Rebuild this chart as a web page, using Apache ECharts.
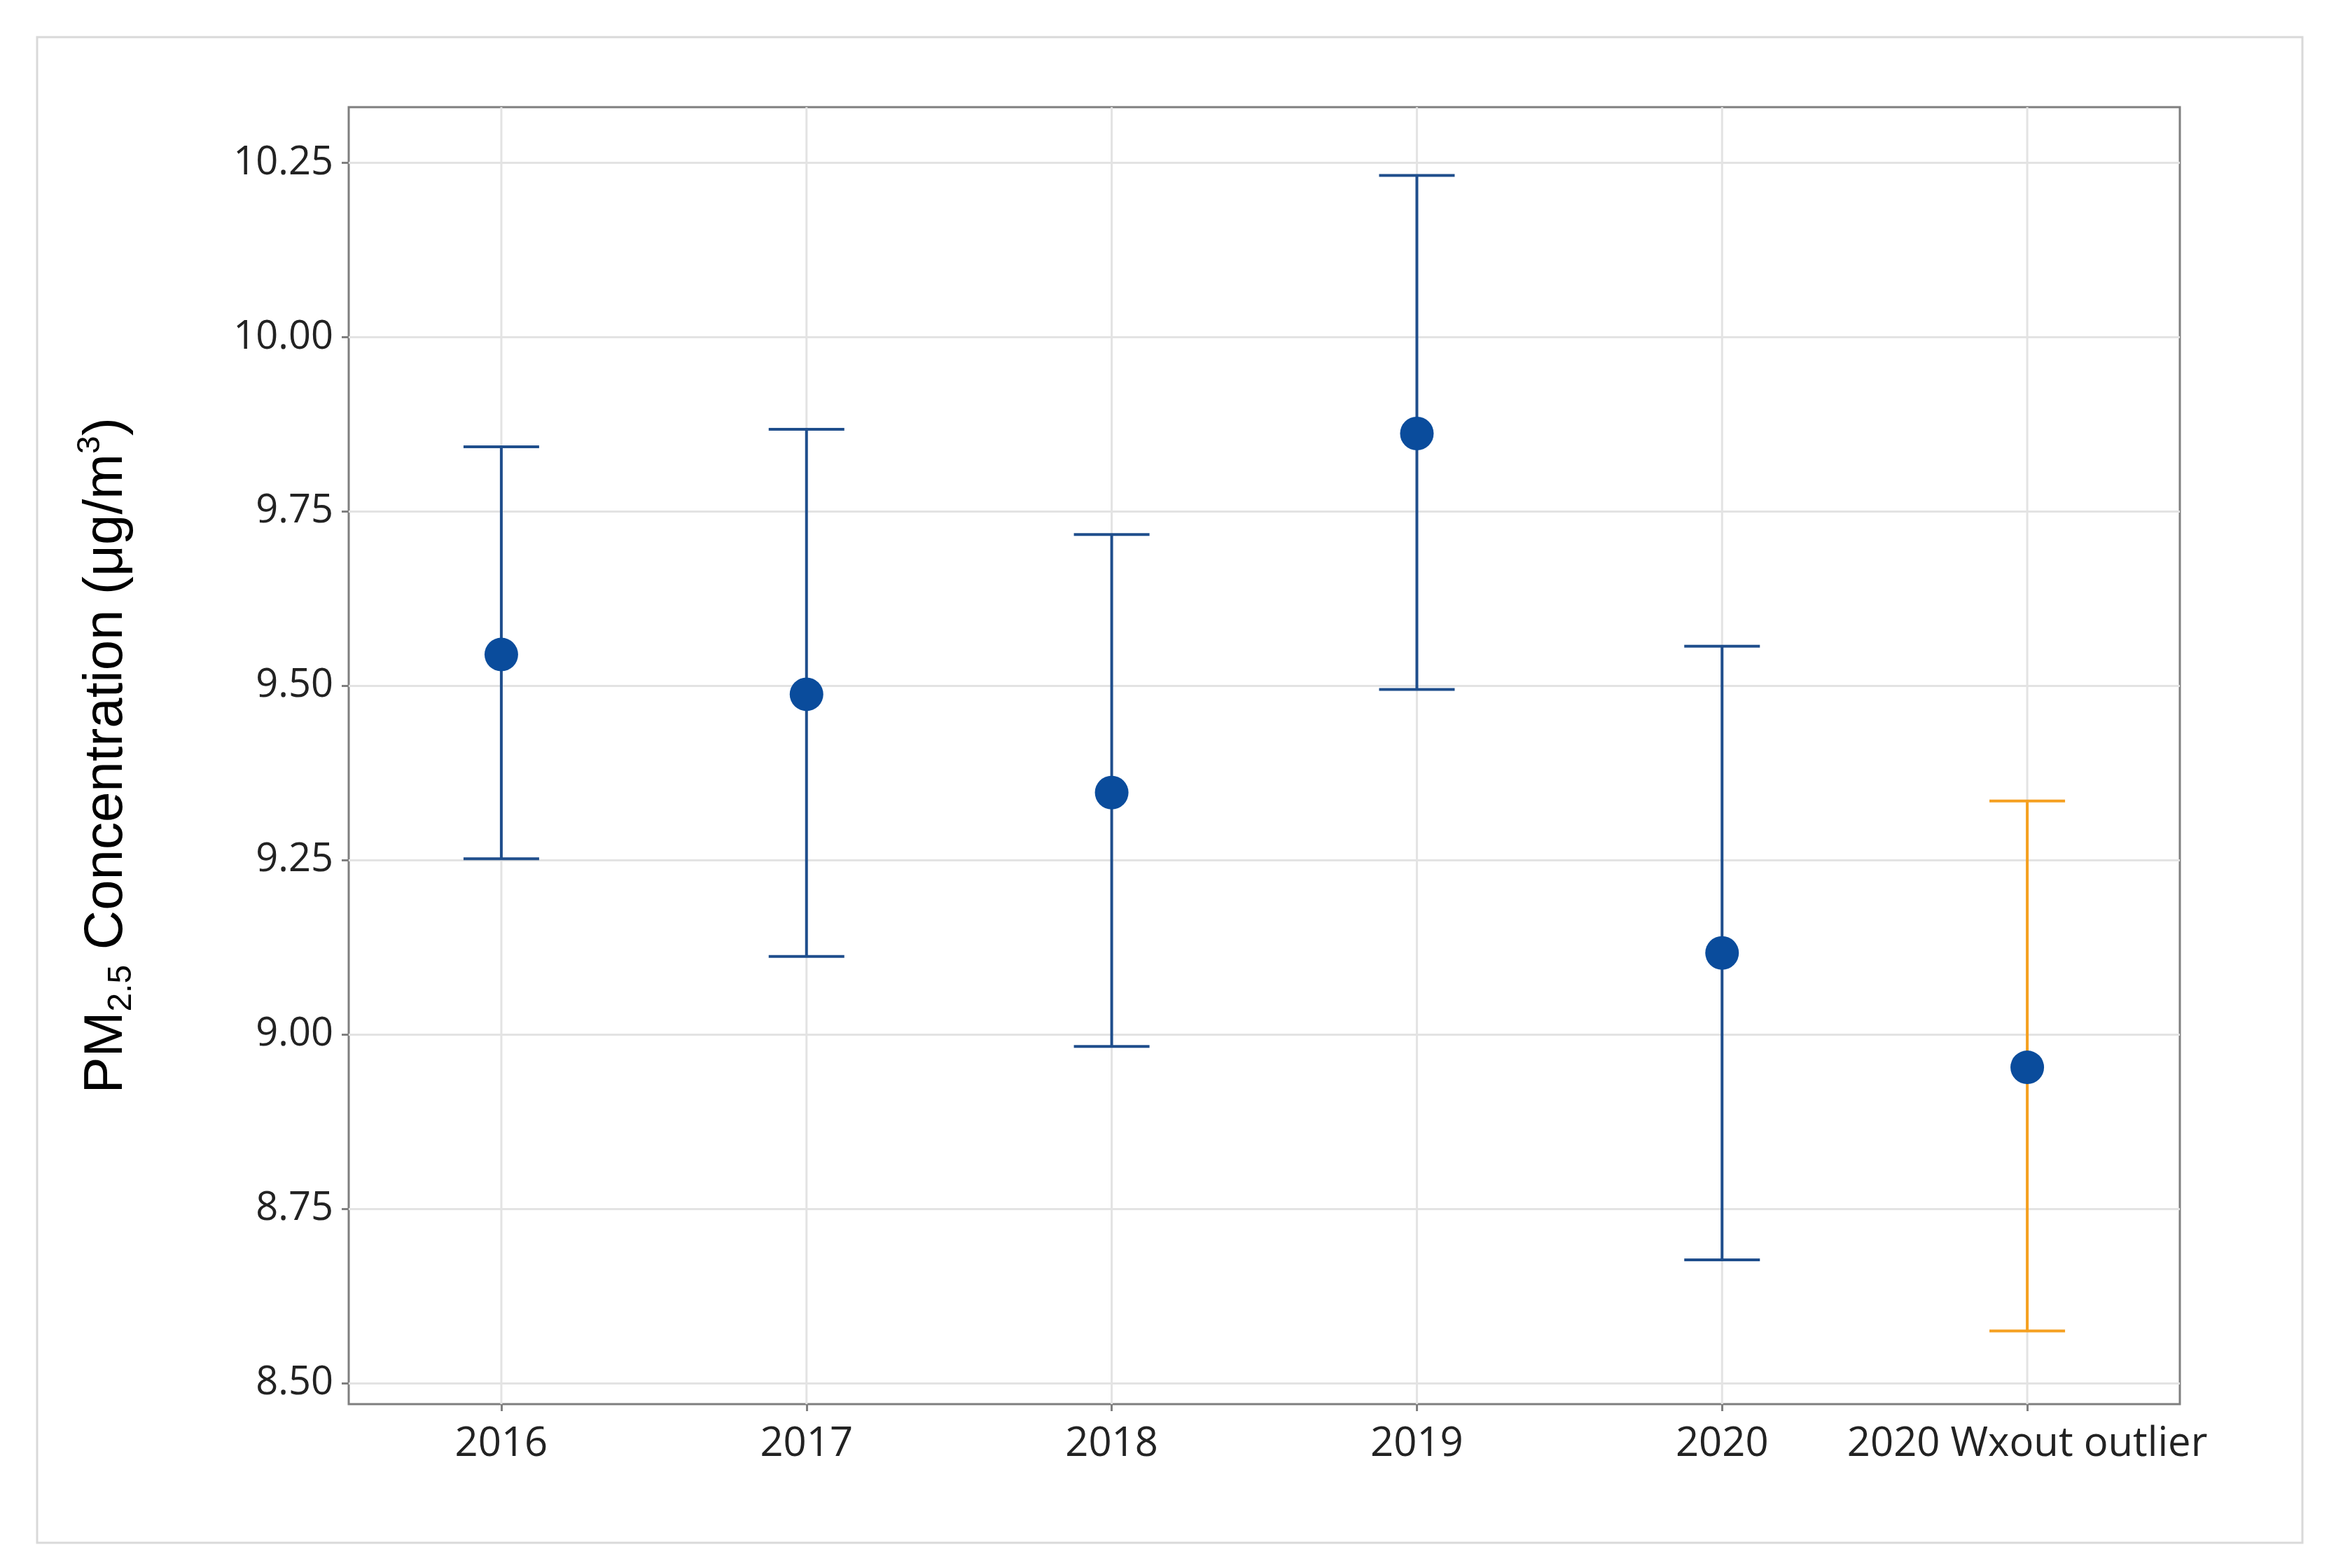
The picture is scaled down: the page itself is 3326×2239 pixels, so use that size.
<!DOCTYPE html>
<html>
<head>
<meta charset="utf-8">
<script src="https://cdn.jsdelivr.net/npm/echarts@6/dist/echarts.min.js"></script>
<style>html,body{margin:0;background:#fff}#ech{width:3326px;height:2239px}</style>
</head>
<body>
<div id="ech"></div>
<script>
// data
var categories = ['2016', '2017', '2018', '2019', '2020', '2020 Wxout outlier'];
var means = [9.545, 9.488, 9.347, 9.862, 9.117, 8.953];
var upper = [9.843, 9.868, 9.717, 10.232, 9.557, 9.335];
var lower = [9.252, 9.112, 8.983, 9.495, 8.677, 8.575];
var barColors = ['#1f4e8c', '#1f4e8c', '#1f4e8c', '#1f4e8c', '#1f4e8c', '#f5a020'];
var yTicks = [8.5, 8.75, 9.0, 9.25, 9.5, 9.75, 10.0, 10.25];

var ownChart = echarts.init(document.getElementById('ech'));
var errData = categories.map(function (c, i) { return [i, lower[i], upper[i]]; });

var option = {
    backgroundColor: '#fff',
    animation: false,
    graphic: [{
        type: 'rect', shape: {x: 53, y: 53, width: 3235, height: 2150},
        style: {fill: 'none', stroke: '#d9d9d9', lineWidth: 3}, z: -1
    }],
    grid: {left: 498, right: 213, top: 153, bottom: 234, show: true, borderColor: '#7f7f7f', borderWidth: 3},
    xAxis: {
        type: 'category', data: categories,
        axisLine: {show: false},
        axisTick: {show: true, alignWithLabel: true, interval: 0, length: 10, lineStyle: {color: '#7f7f7f', width: 3}},
        splitLine: {show: false},
        axisLabel: {interval: 0, color: '#222', fontSize: 58, fontFamily: 'Open Sans', fontWeight: 500, margin: 28}
    },
    yAxis: {
        type: 'value', min: 8.47, max: 10.33,
        axisLine: {show: false},
        axisTick: {show: true, customValues: yTicks, length: 10, lineStyle: {color: '#7f7f7f', width: 3}},
        splitLine: {show: true, lineStyle: {color: '#e3e3e3', width: 3}},
        axisLabel: {
            customValues: yTicks, color: '#222', fontSize: 56, fontFamily: 'Open Sans', fontWeight: 500, margin: 22,
            formatter: function (v) { return v.toFixed(2); }
        },
        name: '{a|PM}{s|2.5}{a| Concentration (μg/m}{p|3}{a|)}',
        nameLocation: 'middle', nameGap: 300, nameRotate: 90,
        nameTextStyle: {
            rich: {
                a: {fontSize: 78, fontFamily: 'Liberation Sans', color: '#000'},
                s: {fontSize: 48, fontFamily: 'Liberation Sans', color: '#000', verticalAlign: 'bottom', padding: [44, 0, 0, 0]},
                p: {fontSize: 46, fontFamily: 'Liberation Sans', color: '#000', verticalAlign: 'top', padding: [0, 0, 36, 0]}
            }
        }
    },
    series: [{
        // vertical gridlines at each category
        type: 'custom',
        data: errData,
        renderItem: function (params, api) {
            var i = api.value(0);
            var cs = params.coordSys;
            var x = api.coord([i, 9])[0];
            return {type: 'line', shape: {x1: x, y1: cs.y, x2: x, y2: cs.y + cs.height},
                style: {stroke: '#e3e3e3', lineWidth: 3}};
        },
        z: 1, silent: true
    }, {
        type: 'custom',
        data: errData,
        renderItem: function (params, api) {
            var i = api.value(0);
            var lo = api.coord([i, api.value(1)]);
            var hi = api.coord([i, api.value(2)]);
            var hw = 54;
            var st = {stroke: barColors[i], lineWidth: 4};
            return {type: 'group', children: [
                {type: 'line', shape: {x1: lo[0], y1: lo[1], x2: hi[0], y2: hi[1]}, style: st},
                {type: 'line', shape: {x1: hi[0] - hw, y1: hi[1], x2: hi[0] + hw, y2: hi[1]}, style: st},
                {type: 'line', shape: {x1: lo[0] - hw, y1: lo[1], x2: lo[0] + hw, y2: lo[1]}, style: st}
            ]};
        },
        z: 2
    }, {
        type: 'scatter', data: means, symbolSize: 48,
        itemStyle: {color: '#0a4c9c', opacity: 1}, z: 3
    }]
};

ownChart.setOption(option);
</script>
</body>
</html>
